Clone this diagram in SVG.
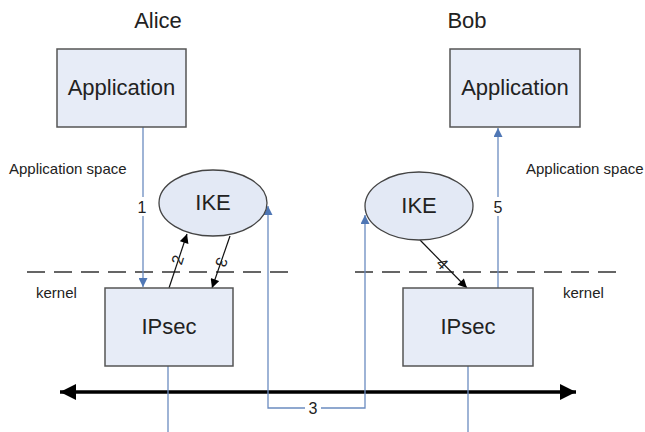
<svg xmlns="http://www.w3.org/2000/svg" width="645" height="432" viewBox="0 0 645 432">
  <style>
    .box { fill: #e7ecf7; stroke: #555555; stroke-width: 1.5; }
    .ell { fill: #e3e9f5; stroke: #444444; stroke-width: 1.3; }
    .t { font-family: "Liberation Sans", Arial, sans-serif; fill: #222222; }
    .big { font-size: 22px; text-anchor: middle; }
    .small { font-size: 15px; }
    .num { font-size: 16px; text-anchor: middle; }
    .blue { fill: none; stroke: #6b8cc0; stroke-width: 1.3; }
    .blk { fill: none; stroke: #111111; stroke-width: 1.2; }
    .dash { fill: none; stroke: #333333; stroke-width: 1.3; stroke-dasharray: 18 9; }
    .bus { fill: none; stroke: #000000; stroke-width: 3.5; }
  </style>
  <defs>
    <marker id="ab" viewBox="0 0 10 10" refX="10" refY="5" markerWidth="10" markerHeight="9" markerUnits="userSpaceOnUse" orient="auto">
      <path d="M0,0 L10,5 L0,10 Z" fill="#4f77b5"/>
    </marker>
    <marker id="ak" viewBox="0 0 10 10" refX="10" refY="5" markerWidth="11" markerHeight="9" markerUnits="userSpaceOnUse" orient="auto">
      <path d="M0,0 L10,5 L0,10 Z" fill="#000000"/>
    </marker>
    <marker id="abus" viewBox="0 0 10 10" refX="10" refY="5" markerWidth="22" markerHeight="16" markerUnits="userSpaceOnUse" orient="auto-start-reverse">
      <path d="M0,0 L10,5 L0,10 Z" fill="#000000"/>
    </marker>
  </defs>

  <!-- titles and zone labels -->
  <text class="t big" x="158" y="28">Alice</text>
  <text class="t big" x="467" y="28">Bob</text>
  <text class="t small" x="9" y="174">Application space</text>
  <text class="t small" x="526" y="174">Application space</text>
  <text class="t small" x="36" y="298">kernel</text>
  <text class="t small" x="563" y="298">kernel</text>

  <!-- user/kernel boundary -->
  <line class="dash" x1="27" y1="272" x2="295" y2="272"/>
  <line class="dash" x1="355" y1="272" x2="625" y2="272"/>

  <!-- network -->
  <line class="bus" x1="60" y1="392" x2="576" y2="392" marker-start="url(#abus)" marker-end="url(#abus)"/>

  <g id="connectors">
    <!-- 1: application to IPsec -->
    <line class="blue" x1="143" y1="127" x2="143" y2="197"/>
    <line class="blue" x1="143" y1="216" x2="143" y2="287" marker-end="url(#ab)"/>
    <text class="t num" x="142" y="213">1</text>

    <!-- 2 and 3: IPsec <-> IKE on Alice -->
    <line class="blk" x1="169" y1="288" x2="187" y2="234" marker-end="url(#ak)"/>
    <text class="t num" transform="translate(178,260) rotate(-72)" x="0" y="5">2</text>
    <line class="blk" x1="230" y1="236" x2="212" y2="288" marker-end="url(#ak)"/>
    <text class="t num" transform="translate(221,262) rotate(109)" x="0" y="5">3</text>

    <!-- 3: IKE to IKE over the network -->
    <path class="blue" d="M305,408 L268,408 L268,206" marker-end="url(#ab)"/>
    <path class="blue" d="M321,408 L365,408 L365,215" marker-end="url(#ab)"/>
    <text class="t num" x="313" y="414">3</text>

    <!-- 4: IKE to IPsec on Bob -->
    <line class="blk" x1="420" y1="240" x2="467" y2="288" marker-end="url(#ak)"/>
    <text class="t num" transform="translate(442,264) rotate(45)" x="0" y="5">4</text>

    <!-- 5: IPsec to application -->
    <line class="blue" x1="498" y1="288" x2="498" y2="216"/>
    <line class="blue" x1="498" y1="197" x2="498" y2="128" marker-end="url(#ab)"/>
    <text class="t num" x="498" y="213">5</text>

    <!-- IPsec to the wire -->
    <line class="blue" x1="168" y1="366" x2="168" y2="432"/>
    <line class="blue" x1="468" y1="366" x2="468" y2="432"/>
  </g>

  <g id="alice-app">
    <rect class="box" x="57" y="49" width="129" height="78"/>
    <text class="t big" x="121.5" y="95">Application</text>
  </g>
  <g id="bob-app">
    <rect class="box" x="450" y="49" width="130" height="78"/>
    <text class="t big" x="515" y="95">Application</text>
  </g>
  <g id="alice-ike">
    <ellipse class="ell" cx="213" cy="203" rx="54" ry="33"/>
    <text class="t big" x="213" y="210">IKE</text>
  </g>
  <g id="bob-ike">
    <ellipse class="ell" cx="419" cy="206" rx="54" ry="34"/>
    <text class="t big" x="419" y="213">IKE</text>
  </g>
  <g id="alice-ipsec">
    <rect class="box" x="105" y="288" width="128" height="78"/>
    <text class="t big" x="169" y="334">IPsec</text>
  </g>
  <g id="bob-ipsec">
    <rect class="box" x="403" y="288" width="130" height="78"/>
    <text class="t big" x="468" y="334">IPsec</text>
  </g>
</svg>
